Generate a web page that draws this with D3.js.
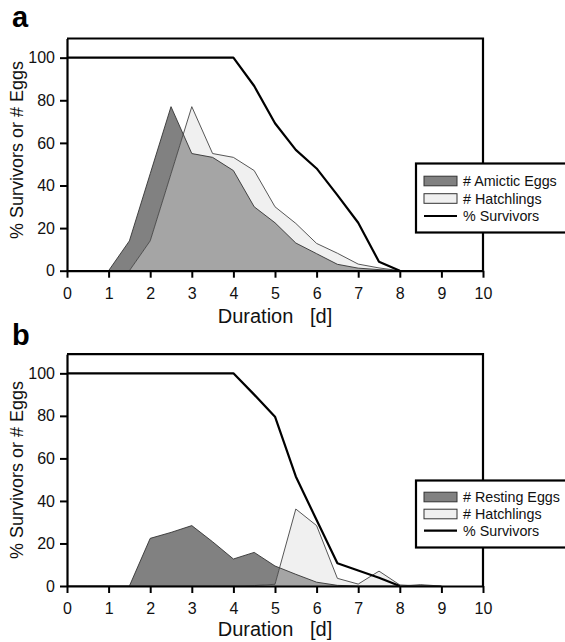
<!DOCTYPE html>
<html>
<head>
<meta charset="utf-8">
<script src="https://cdn.jsdelivr.net/npm/d3@7"></script>
<style>
  html, body { margin: 0; padding: 0; background: #fff; }
  svg { display: block; font-family: "Liberation Sans", Arial, sans-serif; }
</style>
</head>
<body>
<svg id="chart" width="565" height="642"></svg>
<script>
// ---------------- data ----------------
const durations = [0, 0.5, 1, 1.5, 2, 2.5, 3, 3.5, 4, 4.5, 5, 5.5, 6, 6.5, 7, 7.5, 8, 8.5, 9];

// Panel a
const amicticEggs = [0, 0, 0, 14, 45.5, 77, 55, 53.2, 47, 30, 22.5, 13, 8, 3, 1.2, 0.5, 0, 0, 0];
const hatchlingsA = [0, 0, 0, 0, 14, 45.5, 77, 55, 53.2, 47, 30, 22.2, 12.8, 8.2, 3.1, 1.3, 0, 0, 0];
const survivorsA  = [100, 100, 100, 100, 100, 100, 100, 100, 100, 86.7, 69.2, 56.7, 48, 35.5, 22.5, 4.2, 0, null, null];

// Panel b
const restingEggs = [0, 0, 0, 0, 22.4, 25.2, 28.4, 20.8, 12.7, 15.8, 9.4, 5.5, 1.8, 0.3, 0, 0, 0, 0.6, 0];
const hatchlingsB = [0, 0, 0, 0, 0, 0, 0, 0, 0, 0.2, 0.8, 36.2, 28.4, 3.6, 0.9, 7, 0.5, 0, 0];
const survivorsB  = [100, 100, 100, 100, 100, 100, 100, 100, 100, 90, 79.6, 51.5, 31, 10.7, 7.3, 3.9, 0, null, null];

const xTicks = [0, 1, 2, 3, 4, 5, 6, 7, 8, 9, 10];
const yTicks = [0, 20, 40, 60, 80, 100];
const xTitle = "Duration   [d]";
const yTitle = "% Survivors or # Eggs";
const legendA = ["# Amictic Eggs", "# Hatchlings", "% Survivors"];
const legendB = ["# Resting Eggs", "# Hatchlings", "% Survivors"];

// ---------------- styles ----------------
const DARK = "#818181", LIGHT = "#f0f0f0", MID = "#a5a5a5";

const svg = d3.select("#chart");

const panels = [
  { id: "a", label: "a", eggs: amicticEggs, hatch: hatchlingsA, surv: survivorsA, legend: legendA,
    top: 38.5, bottom: 270.7, labelY: 27, titleY: 323, yTitleC: 150,
    legY: 163.5, legH: 69, rows: [181, 198.5, 216] },
  { id: "b", label: "b", eggs: restingEggs, hatch: hatchlingsB, surv: survivorsB, legend: legendB,
    top: 354.2, bottom: 586, labelY: 345, titleY: 636, yTitleC: 470,
    legY: 480.5, legH: 67, rows: [497, 514, 530.7] }
];

const x = d3.scaleLinear().domain([0, 10]).range([67, 483]);

panels.forEach(p => {
  const y = d3.scaleLinear().domain([0, 109]).range([p.bottom, p.top]);
  const g = svg.append("g");

  const eggs = durations.map((t, i) => ({ t, v: p.eggs[i] }));
  const hatch = durations.map((t, i) => ({ t, v: p.hatch[i] }));
  const surv = durations.map((t, i) => ({ t, v: p.surv[i] }));

  const area = d3.area().x(d => x(d.t)).y0(y(0)).y1(d => y(d.v));
  const line = d3.line().x(d => x(d.t)).y(d => y(d.v));

  // clip for overlap
  const clipId = "clip-eggs-" + p.id;
  svg.append("defs").append("clipPath").attr("id", clipId)
    .append("path").attr("d", area(eggs));

  g.append("path").attr("d", area(eggs)).attr("fill", DARK);
  g.append("path").attr("d", area(hatch)).attr("fill", LIGHT);
  g.append("path").attr("d", area(hatch)).attr("fill", MID).attr("clip-path", `url(#${clipId})`);

  g.append("path").attr("d", line(eggs)).attr("fill", "none").attr("stroke", "#333").attr("stroke-width", 0.9);
  g.append("path").attr("d", line(hatch)).attr("fill", "none").attr("stroke", "#444").attr("stroke-width", 0.9);

  g.append("path")
    .attr("d", line.defined(d => d.v !== null)(surv))
    .attr("fill", "none").attr("stroke", "#000").attr("stroke-width", 2.2)
    .attr("stroke-linejoin", "round");

  // axes
  const xAxis = d3.axisBottom(x).tickValues(xTicks).tickSize(7).tickSizeOuter(0).tickPadding(10)
    .tickFormat(d3.format("d"));
  const yAxis = d3.axisLeft(y).tickValues(yTicks).tickSize(7).tickSizeOuter(0).tickPadding(5)
    .tickFormat(d3.format("d"));

  const gx = g.append("g").attr("transform", `translate(0,${p.bottom})`).call(xAxis);
  const gy = g.append("g").attr("transform", `translate(${x(0)},0)`).call(yAxis);
  [gx, gy].forEach(ax => {
    ax.select(".domain").attr("stroke", "#000").attr("stroke-width", 2.2);
    ax.selectAll(".tick line").attr("stroke", "#000").attr("stroke-width", 2);
    ax.selectAll(".tick text").attr("fill", "#111").style("font-size", "16px")
      .style("font-family", '"Liberation Sans", Arial, sans-serif');
  });

  // frame top & right
  g.append("path")
    .attr("d", `M${x(0)},${y(109)}H${x(10)}V${y(0)}`)
    .attr("fill", "none").attr("stroke", "#000").attr("stroke-width", 2.2);

  // titles
  g.append("text").attr("x", 275).attr("y", p.titleY).attr("text-anchor", "middle")
    .style("font-size", "20px").attr("fill", "#111").style("white-space", "pre").text(xTitle);
  g.append("text").attr("transform", `translate(23,${p.yTitleC}) rotate(-90)`)
    .attr("text-anchor", "middle").style("font-size", "18px").attr("fill", "#111").text(yTitle);
  g.append("text").attr("x", 12).attr("y", p.labelY).style("font-size", "29px")
    .style("font-weight", "bold").attr("fill", "#000").text(p.label);

  // legend
  const lg = g.append("g");
  lg.append("rect").attr("x", 416).attr("y", p.legY).attr("width", 170).attr("height", p.legH)
    .attr("fill", "#fff").attr("stroke", "#000").attr("stroke-width", 2.2);
  const fills = [DARK, LIGHT];
  p.legend.forEach((txt, i) => {
    const cy = p.rows[i];
    if (i < 2) {
      lg.append("rect").attr("x", 424).attr("y", cy - 4.8).attr("width", 33).attr("height", 9.6)
        .attr("fill", fills[i]).attr("stroke", "#333").attr("stroke-width", 1);
    } else {
      lg.append("line").attr("x1", 424).attr("x2", 457).attr("y1", cy).attr("y2", cy)
        .attr("stroke", "#000").attr("stroke-width", 2.2);
    }
    lg.append("text").attr("x", 463).attr("y", cy).attr("dy", "0.36em")
      .style("font-size", "14.3px").attr("fill", "#111").text(txt);
  });
});
</script>
</body>
</html>
